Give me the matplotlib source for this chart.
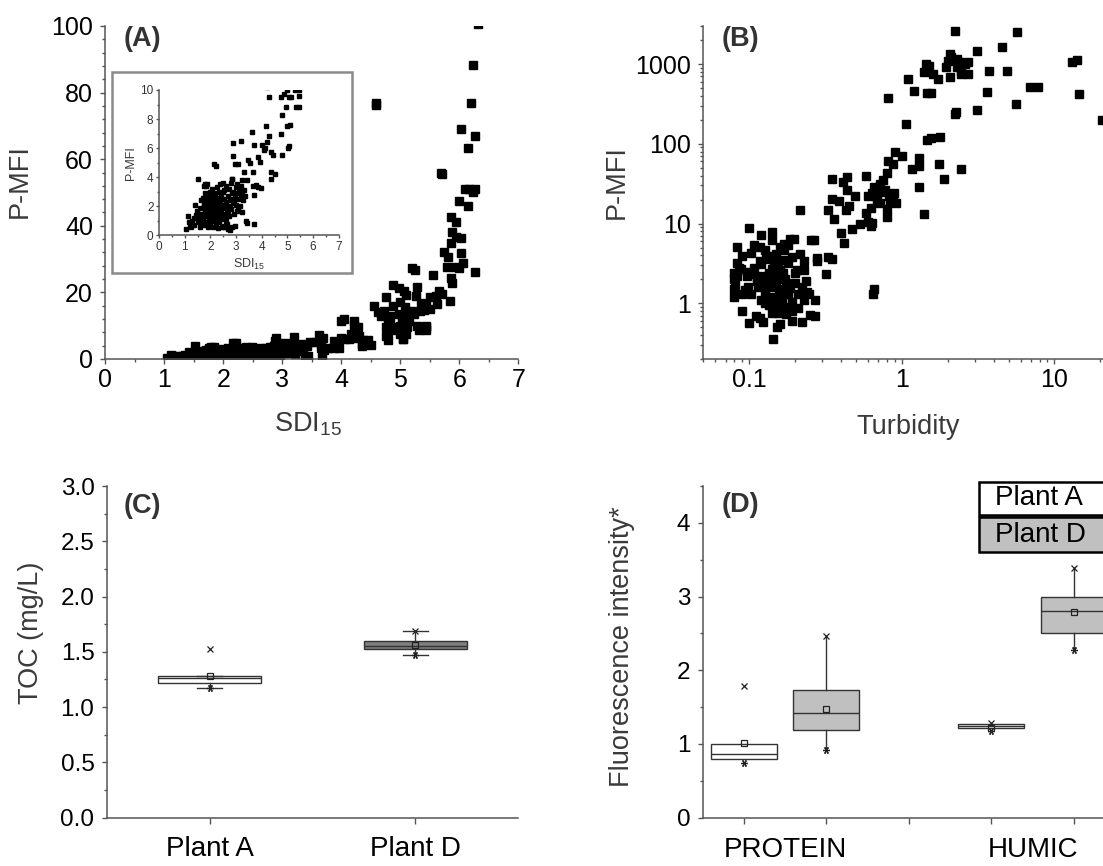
import matplotlib
matplotlib.use("Agg")
import matplotlib.pyplot as plt
from matplotlib.patches import Rectangle
from matplotlib.ticker import MultipleLocator, FixedLocator, LogLocator, NullFormatter, FuncFormatter

plt.rcParams["font.family"] = ["Liberation Sans", "DejaVu Sans"]
plt.rcParams["mathtext.fontset"] = "custom"
plt.rcParams["mathtext.rm"] = "Liberation Sans"

# ---------------------------------------------------------------
# (A) SDI15 vs P-MFI  (inset shows the same points, P-MFI 0-10)
# ---------------------------------------------------------------
sdi15 = [
    1.05, 1.12, 1.20, 1.30, 1.25, 1.38, 1.45, 1.50, 1.52, 1.55, 1.58, 1.60, 1.62, 1.65, 1.68, 1.70,
    1.72, 1.74, 1.76, 1.78, 1.80, 1.80, 1.82, 1.84, 1.85, 1.87, 1.88, 1.90, 1.90, 1.92, 1.93, 1.95,
    1.96, 1.98, 2.00, 2.00, 2.02, 2.03, 2.05, 2.06, 2.08, 2.10, 2.10, 2.12, 2.13, 2.15, 2.16, 2.18,
    2.20, 2.21, 2.22, 2.24, 2.25, 2.26, 2.28, 2.30, 2.30, 2.32, 2.34, 2.35, 2.36, 2.38, 2.40, 2.42,
    2.43, 2.45, 2.46, 2.48, 2.50, 2.52, 2.53, 2.55, 2.56, 2.58, 2.60, 2.62, 2.63, 2.65, 2.67, 2.70,
    2.70, 2.72, 2.74, 2.76, 2.78, 2.80, 2.82, 2.84, 2.85, 2.86, 2.88, 2.90, 2.92, 2.95, 2.96, 2.98,
    3.00, 3.02, 3.05, 3.08, 3.10, 3.12, 3.15, 3.18, 3.20, 3.22, 3.25, 3.28, 3.30, 3.35,
    1.15, 1.35, 1.42, 1.48, 1.66, 1.71, 1.77, 1.94, 1.99, 2.04, 2.09, 2.14, 2.19, 2.27, 2.33, 2.39,
    2.44, 2.49, 2.57, 2.61, 2.68, 2.75, 2.81, 2.93, 3.03, 3.14,
    4.29, 4.87, 5.12, 5.44, 4.94, 5.32, 5.44, 4.79, 5.10, 4.17, 3.62, 5.05, 4.79, 4.45, 2.90, 3.19,
    4.22, 4.00, 4.07, 4.13, 3.69, 2.87, 2.96, 3.09, 3.47, 3.55, 3.87, 3.94, 3.31, 3.65, 4.35, 4.35,
    2.86, 3.25, 3.42, 1.79, 1.83, 3.65, 3.87, 3.96, 3.77, 3.70, 3.38, 3.44, 3.68, 2.51,
    6.31, 6.24, 6.20, 4.58, 4.58, 6.03, 6.26, 6.15, 5.69, 5.70, 6.10, 6.17, 6.27, 6.24, 6.00, 6.15,
    5.86, 5.95, 5.87, 5.95, 6.03, 5.86, 5.74, 5.81, 6.03, 6.06, 5.80, 5.92, 6.00, 6.26, 5.20, 5.25,
    5.56, 5.86, 5.88, 5.85, 5.65, 5.71, 5.60, 5.62, 5.44, 5.50, 5.29, 5.26, 5.35, 5.41, 4.88, 4.97,
    5.06, 5.09, 4.76, 4.88, 5.00, 4.56, 4.62, 4.68, 4.73, 4.82, 4.97, 5.03, 5.09, 5.18, 5.33, 5.50,
    5.00, 5.06, 4.79, 4.82, 5.29, 5.44, 5.23, 4.05, 3.99, 4.22, 4.22, 5.15, 5.08,
    4.76, 4.76, 5.00, 5.06, 4.36, 5.04, 4.50, 4.30,
]
pmfi_a = [
    0.45, 1.30, 0.80, 1.00, 0.60, 0.70, 1.40, 0.90, 3.85, 1.20, 0.60, 1.90, 2.40, 1.50, 0.80, 2.60,
    1.10, 2.00, 3.40, 1.70, 2.90, 0.70, 2.20, 1.30, 3.55, 0.90, 2.50, 1.60, 2.80, 0.55, 1.95, 1.20,
    2.35, 3.00, 1.50, 0.80, 2.70, 1.80, 2.10, 1.00, 3.20, 0.60, 2.40, 1.40, 1.75, 2.90, 4.90, 1.10,
    2.20, 4.80, 0.75, 1.60, 2.60, 3.30, 1.30, 0.50, 2.00, 3.00, 1.50, 0.90, 2.45, 3.50, 1.80, 1.10,
    2.80, 0.65, 2.10, 3.60, 1.40, 2.50, 0.55, 3.10, 1.90, 1.20, 2.30, 3.40, 0.80, 1.60, 2.70, 2.00,
    0.45, 3.20, 1.30, 2.40, 0.35, 3.60, 1.80, 2.90, 0.60, 3.90, 2.20, 3.00, 1.50, 2.60, 0.62, 3.30,
    2.10, 2.90, 3.50, 1.90, 3.00, 2.50, 3.20, 2.80, 3.40, 1.60, 3.00, 2.40, 3.10, 2.70,
    0.90, 1.20, 2.10, 1.70, 1.00, 1.35, 2.25, 2.65, 1.05, 2.30, 1.65, 0.95, 2.75, 1.90, 1.20, 2.20,
    1.45, 2.95, 2.05, 1.00, 1.55, 1.85, 2.50, 2.35, 1.70, 2.05,
    9.49, 9.72, 9.49, 9.59, 8.80, 8.85, 8.85, 8.30, 7.59, 7.50, 7.13, 6.14, 5.56, 5.56, 6.37, 6.50,
    6.44, 6.20, 5.90, 5.98, 6.20, 5.47, 4.94, 4.94, 5.17, 4.99, 5.40, 5.06, 4.37, 4.37, 4.37, 3.86,
    3.90, 3.84, 3.84, 3.56, 3.38, 3.38, 3.33, 3.26, 3.43, 2.76, 0.99, 0.85, 0.80, 0.57,
    100.5, 88.3, 77.0, 76.8, 76.3, 69.0, 67.0, 63.3, 56.0, 55.5, 51.0, 51.0, 51.0, 50.3, 47.4, 46.0,
    42.5, 41.2, 38.2, 36.7, 36.2, 34.7, 32.2, 30.7, 31.7, 28.7, 27.7, 27.7, 27.2, 26.0, 27.4, 26.7,
    25.2, 24.2, 22.7, 17.5, 20.5, 19.5, 19.0, 16.5, 16.5, 18.5, 21.5, 19.0, 16.7, 14.7, 22.3, 21.3,
    20.3, 19.3, 18.5, 16.0, 17.0, 16.0, 14.0, 13.0, 14.5, 13.0, 13.5, 12.0, 13.0, 14.5, 14.5, 15.0,
    10.0, 10.5, 12.0, 10.5, 10.0, 10.0, 13.5, 12.0, 11.5, 11.5, 10.2, 11.5, 15.5,
    7.0, 9.5, 7.5, 9.5, 5.7, 6.0, 4.2, 6.8,
]

# ---------------------------------------------------------------
# (B) Turbidity vs P-MFI
# ---------------------------------------------------------------
turbidity = [
    2.23, 5.70, 3.13, 4.50, 13.0, 14.1, 1.43, 1.50, 2.08, 2.10, 2.00, 2.30, 2.40, 2.60, 2.73, 1.95,
    2.30, 2.45, 1.40, 1.60, 1.73, 2.07, 2.45, 2.73, 3.73, 4.87, 1.10, 1.20, 1.47, 1.55, 0.81, 3.60,
    6.90, 7.80, 14.5, 20.5, 5.57, 3.10, 2.23, 2.25, 1.06, 1.47, 1.55, 1.77, 0.90, 1.00, 1.29, 1.29,
    0.81, 0.87, 1.76, 2.44, 1.17, 1.90, 1.29, 1.40,
    0.35, 0.41, 0.44, 0.58, 0.35, 0.39, 0.33, 0.36, 0.44, 0.45, 0.43, 0.49, 0.40, 0.42, 0.47, 0.53,
    0.60, 0.58, 0.63, 0.60, 0.64, 0.66, 0.72, 0.75, 0.80, 0.69, 0.72, 0.80, 0.80, 0.89, 0.91, 0.88,
    0.73, 0.78, 0.82, 0.84, 0.68, 0.63, 0.64, 0.216, 0.33, 0.35, 0.32, 0.28, 0.28, 0.66, 0.65,
    0.100, 0.120, 0.140, 0.140, 0.185, 0.195, 0.254, 0.266, 0.083, 0.108, 0.117, 0.215, 0.228, 0.228,
    0.083, 0.090, 0.079, 0.081, 0.079, 0.090, 0.100, 0.110, 0.123, 0.144, 0.153, 0.160, 0.190, 0.220,
    0.250, 0.270, 0.270, 0.240, 0.210, 0.200, 0.220, 0.190, 0.170, 0.155, 0.120, 0.127, 0.137, 0.150,
    0.103, 0.098, 0.090, 0.083, 0.096, 0.108, 0.120, 0.134, 0.149, 0.166, 0.180, 0.149, 0.134, 0.120,
    0.112, 0.166, 0.173, 0.157, 0.140, 0.165, 0.180, 0.200, 0.190, 0.160, 0.170, 0.180, 0.127, 0.103,
    0.088, 0.097, 0.114, 0.127, 0.140, 0.147, 0.175, 0.190, 0.210, 0.230, 0.245, 0.235, 0.105, 0.079,
    0.079, 0.130, 0.145, 0.158, 0.175, 0.125, 0.150, 0.162, 0.135, 0.155, 0.142, 0.118, 0.168, 0.132,
    0.086, 0.094, 0.112, 0.128, 0.146, 0.138, 0.152, 0.160, 0.172, 0.185, 0.205, 0.118, 0.131, 0.143,
]
pmfi_b = [
    2600, 2550, 1440, 1620, 1050, 1120, 1000, 950, 1340, 1210, 1100, 1150, 1050, 1000, 1050, 910,
    910, 820, 785, 750, 645, 680, 750, 750, 820, 820, 645, 460, 430, 430, 370, 450,
    520, 520, 420, 200, 320, 265, 235, 250, 175, 113, 118, 122, 79, 70, 66, 52,
    60, 55, 56, 48, 48, 36, 29, 13.2,
    36.4, 33, 38, 40, 20.5, 19, 14.6, 11.3, 26, 16.5, 14.8, 22, 7.7, 5.7, 8.5, 10,
    10.5, 13.5, 15.7, 22, 24, 29, 31, 35, 43, 20, 18, 15, 12, 24, 18, 20,
    25, 26, 22, 18.5, 22, 9.3, 10.3, 14.6, 3.8, 3.6, 2.3, 3.7, 3.4, 1.5, 1.3,
    8.9, 7.2, 7.9, 6.2, 6.4, 6.4, 6.2, 6.2, 5.1, 5.4, 5.1, 4.2, 3.4, 2.6,
    3.2, 3.9, 2.4, 1.7, 1.2, 0.80, 0.57, 0.70, 0.58, 0.36, 0.51, 0.55, 0.60, 0.58,
    0.72, 0.70, 1.10, 1.40, 1.30, 1.80, 1.60, 1.05, 0.90, 0.75, 1.10, 1.30, 1.60, 1.90,
    1.30, 1.60, 1.30, 2.20, 2.50, 2.80, 3.10, 3.90, 4.20, 3.50, 3.20, 2.90, 2.40, 2.20,
    1.90, 2.40, 1.80, 1.50, 1.20, 1.10, 1.30, 2.40, 3.80, 5.10, 5.60, 5.40, 4.70, 4.30,
    2.70, 2.20, 1.60, 1.00, 0.76, 0.92, 0.73, 0.80, 0.86, 1.10, 1.30, 1.90, 2.30, 2.00,
    1.50, 2.00, 3.00, 2.60, 1.40, 1.70, 1.15, 2.10, 0.95, 3.30, 2.70, 0.65, 4.60, 1.05,
    2.80, 1.45, 2.05, 3.60, 2.25, 1.75, 2.85, 1.25, 2.00, 1.55, 2.60, 3.40, 1.85, 2.45,
]

# ---------------------------------------------------------------
# (C) TOC box statistics
# ---------------------------------------------------------------
toc_labels = ["Plant A", "Plant D"]
toc_q1 = [1.22, 1.53]
toc_med = [1.26, 1.55]
toc_q3 = [1.28, 1.60]
toc_mean = [1.28, 1.565]
toc_whislo = [1.17, 1.47]
toc_whishi = [1.28, 1.69]
toc_min = [1.17, 1.47]
toc_max = [1.53, 1.69]
toc_colors = ["white", "#7f7f7f"]

# ---------------------------------------------------------------
# (D) Fluorescence box statistics: PROTEIN A, PROTEIN D, HUMIC A, HUMIC D
# ---------------------------------------------------------------
fl_groups = ["PROTEIN", "HUMIC"]
fl_plants = ["Plant A", "Plant D"]
fl_q1 = [0.80, 1.19, 1.22, 2.50]
fl_med = [0.87, 1.42, 1.25, 2.81]
fl_q3 = [1.00, 1.73, 1.27, 3.00]
fl_mean = [1.01, 1.47, 1.22, 2.79]
fl_whislo = [0.80, 0.92, 1.22, 2.27]
fl_whishi = [1.00, 2.46, 1.27, 3.39]
fl_min = [0.74, 0.92, 1.17, 2.27]
fl_max = [1.78, 2.46, 1.28, 3.39]
fl_colors = ["white", "#c0c0c0", "white", "#c0c0c0"]

W, H = 1103, 866
fig = plt.figure(figsize=(W / 100, H / 100), dpi=100)

def px_axes(left, top, right, bottom):
    return fig.add_axes([left / W, 1 - bottom / H, (right - left) / W, (bottom - top) / H])

spine_col = "#555555"
lab_col = "#3a3a3a"
star = (6, 2, 90)
LAB = 19.5

def style(ax, size):
    for s in ["top", "right"]:
        ax.spines[s].set_visible(False)
    for s in ["left", "bottom"]:
        ax.spines[s].set_color(spine_col)
        ax.spines[s].set_linewidth(1.1)
    ax.tick_params(which="both", direction="out", colors=spine_col, labelcolor="black",
                   labelsize=size, width=1.0)
    ax.tick_params(which="major", length=3.8)
    ax.tick_params(which="minor", length=2.2)

def panel_label(ax, x, y, txt):
    ax.text(x, y, txt, transform=ax.transAxes, fontsize=19.5, fontweight="bold",
            color="#333333", ha="left", va="top")

# ---------------- (A)
axA = px_axes(105.3, 26, 518.3, 359)
style(axA, 18)
axA.plot(sdi15, pmfi_a, "s", ms=6, color="black", mec="black")
axA.set_xlim(0, 7)
axA.set_ylim(0, 100)
axA.xaxis.set_major_locator(MultipleLocator(1))
axA.xaxis.set_minor_locator(MultipleLocator(0.5))
axA.yaxis.set_major_locator(MultipleLocator(20))
axA.yaxis.set_minor_locator(MultipleLocator(4))
axA.tick_params(axis="x", pad=3)
axA.tick_params(axis="y", pad=5)
axA.set_xlabel("SDI$_{15}$", fontsize=LAB, color=lab_col)
axA.set_ylabel("P-MFI", fontsize=LAB, color=lab_col)
axA.xaxis.set_label_coords(0.49, -0.155)
axA.yaxis.set_label_coords(-0.175, 0.533)
panel_label(axA, 0.044, 1.0, "(A)")

# inset frame and inset axes
frame = Rectangle((111.5 / W, 1 - 273.3 / H), 240.3 / W, 201.6 / H, transform=fig.transFigure,
                  facecolor="white", edgecolor="#8a8a8a", linewidth=1.8, zorder=2)
fig.add_artist(frame)
axI = px_axes(159, 90, 338.8, 235.3)
axI.set_zorder(3)
axI.patch.set_alpha(0)
style(axI, 8.5)
axI.tick_params(which="both", labelcolor="#333333")
axI.tick_params(which="major", length=2.5, pad=1.5)
axI.tick_params(which="minor", length=1.5)
axI.plot(sdi15, pmfi_a, "s", ms=2.3, color="black", mec="black")
axI.set_xlim(0, 7)
axI.set_ylim(0, 10)
axI.xaxis.set_major_locator(MultipleLocator(1))
axI.xaxis.set_minor_locator(MultipleLocator(0.5))
axI.yaxis.set_major_locator(MultipleLocator(2))
axI.yaxis.set_minor_locator(MultipleLocator(1))
axI.set_xlabel("SDI$_{15}$", fontsize=9, color=lab_col, labelpad=3)
axI.set_ylabel("P-MFI", fontsize=9, color=lab_col, labelpad=2)

# ---------------- (B)
axB = px_axes(703.3, 26, 1127.3, 359)
style(axB, 18)
axB.plot(turbidity, pmfi_b, "s", ms=5.3, color="black", mec="black")
axB.set_xscale("log")
axB.set_yscale("log")
axB.set_xlim(0.05, 30)
axB.set_ylim(0.2, 3000)
plain = FuncFormatter(lambda v, p: f"{v:g}")
axB.xaxis.set_major_locator(FixedLocator([0.1, 1, 10]))
axB.xaxis.set_major_formatter(plain)
axB.xaxis.set_minor_locator(LogLocator(base=10, subs=range(2, 10)))
axB.xaxis.set_minor_formatter(NullFormatter())
axB.yaxis.set_major_locator(FixedLocator([1, 10, 100, 1000]))
axB.yaxis.set_major_formatter(plain)
axB.yaxis.set_minor_locator(LogLocator(base=10, subs=range(2, 10)))
axB.yaxis.set_minor_formatter(NullFormatter())
axB.tick_params(axis="x", pad=3)
axB.tick_params(axis="y", pad=5)
axB.set_xlabel("Turbidity", fontsize=LAB, color=lab_col)
axB.set_ylabel("P-MFI", fontsize=LAB, color=lab_col)
axB.xaxis.set_label_coords(0.483, -0.165)
axB.yaxis.set_label_coords(-0.173, 0.53)
panel_label(axB, 0.0436, 1.0, "(B)")

# ---------------- (C)
axC = px_axes(106.7, 486, 518, 817.7)
style(axC, 17.5)
toc_stats = [dict(med=m, q1=a, q3=b, whislo=lo, whishi=hi, mean=mu, fliers=[], label=l)
             for m, a, b, lo, hi, mu, l in zip(toc_med, toc_q1, toc_q3, toc_whislo, toc_whishi,
                                               toc_mean, toc_labels)]
bpC = axC.bxp(toc_stats, positions=[1, 2], widths=0.5, patch_artist=True, showmeans=True,
              capwidths=0.12,
              boxprops=dict(edgecolor="#333333", linewidth=1.0),
              medianprops=dict(color="#333333", linewidth=1.0),
              whiskerprops=dict(color="#333333", linewidth=1.0),
              capprops=dict(color="#333333", linewidth=1.0),
              meanprops=dict(marker="s", markersize=4, markerfacecolor="none",
                             markeredgecolor="#222222", markeredgewidth=0.9))
for patch, c in zip(bpC["boxes"], toc_colors):
    patch.set_facecolor(c)
axC.plot([1, 2], toc_max, linestyle="none", marker="x", ms=4, mew=0.9, color="#222222")
axC.plot([1, 2], toc_min, linestyle="none", marker=star, ms=5, mew=0.9, color="#222222")
axC.set_xlim(0.5, 2.5)
axC.set_ylim(0, 3.0)
axC.yaxis.set_major_locator(MultipleLocator(0.5))
axC.yaxis.set_minor_locator(MultipleLocator(0.25))
axC.yaxis.set_major_formatter(FuncFormatter(lambda v, p: f"{v:.1f}"))
axC.tick_params(axis="x", which="major", length=4, pad=9, labelsize=20)
axC.tick_params(axis="y", pad=5)
axC.set_ylabel("TOC (mg/L)", fontsize=LAB, color=lab_col)
axC.yaxis.set_label_coords(-0.152, 0.557)
panel_label(axC, 0.041, 0.98, "(C)")

# ---------------- (D)
axD = px_axes(702.7, 486, 1197.7, 817.7)
style(axD, 17.5)
fl_pos = [1, 2, 4, 5]
fl_stats = [dict(med=m, q1=a, q3=b, whislo=lo, whishi=hi, mean=mu, fliers=[])
            for m, a, b, lo, hi, mu in zip(fl_med, fl_q1, fl_q3, fl_whislo, fl_whishi, fl_mean)]
bpD = axD.bxp(fl_stats, positions=fl_pos, widths=0.8, patch_artist=True, showmeans=True,
              showcaps=False,
              boxprops=dict(edgecolor="#333333", linewidth=1.0),
              medianprops=dict(color="#333333", linewidth=1.0),
              whiskerprops=dict(color="#333333", linewidth=1.0),
              meanprops=dict(marker="s", markersize=4, markerfacecolor="none",
                             markeredgecolor="#222222", markeredgewidth=0.9))
for patch, c in zip(bpD["boxes"], fl_colors):
    patch.set_facecolor(c)
axD.plot(fl_pos, fl_max, linestyle="none", marker="x", ms=4, mew=0.9, color="#222222")
axD.plot(fl_pos, fl_min, linestyle="none", marker=star, ms=5, mew=0.9, color="#222222")
axD.set_xlim(0.5, 6.5)
axD.set_ylim(0, 4.5)
axD.yaxis.set_major_locator(MultipleLocator(1))
axD.yaxis.set_minor_locator(MultipleLocator(0.5))
axD.set_xticks([1.5, 4.5], fl_groups)
axD.xaxis.set_minor_locator(FixedLocator([1, 2, 3, 4, 5]))
axD.tick_params(axis="x", which="major", length=0, pad=14, labelsize=20)
axD.tick_params(axis="x", which="minor", length=4)
axD.tick_params(axis="y", pad=5)
axD.set_ylabel("Fluorescence intensity*", fontsize=LAB, color=lab_col)
axD.yaxis.set_label_coords(-0.137, 0.516)
panel_label(axD, 0.0386, 0.983, "(D)")

# legend rows drawn as boxes in axes coordinates
leg_rows = [(0.9126, 1.013, "white", fl_plants[0]), (0.8007, 0.9056, "#c0c0c0", fl_plants[1])]
for y0, y1, fc, txt in leg_rows:
    axD.add_patch(Rectangle((0.558, y0), 0.35, y1 - y0, transform=axD.transAxes,
                            facecolor=fc, edgecolor="black", linewidth=1.8, clip_on=False))
    axD.text(0.5905, (y0 + y1) / 2, txt, transform=axD.transAxes, fontsize=20,
             ha="left", va="center", color="black")

fig.savefig("out.png", dpi=100)
